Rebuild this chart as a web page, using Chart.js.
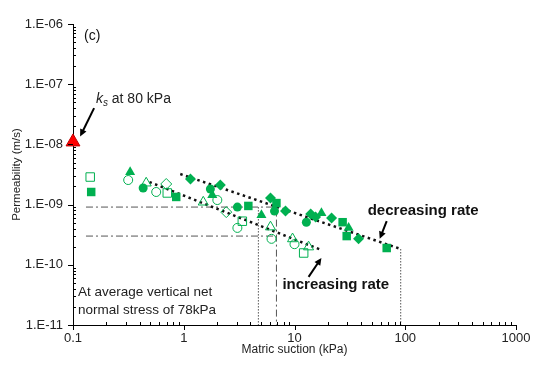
<!DOCTYPE html>
<html>
<head>
<meta charset="utf-8">
<script src="https://cdn.jsdelivr.net/npm/chart.js@4.4.1/dist/chart.umd.min.js"></script>
<style>
  html, body { margin: 0; padding: 0; background: #fff; }
  #wrap { width: 550px; height: 365px; }
</style>
</head>
<body>
<div id="wrap"><canvas id="chart" width="550" height="365"></canvas></div>
<script>
// Axis ticks
const xTicks = [0.1, 1, 10, 100, 1000];
const yTicks = [1e-11, 1e-10, 1e-9, 1e-8, 1e-7, 1e-6];

// Measured points: [matric suction (kPa), permeability (m/s)]
const filledSquares = [[0.146, 1.62e-9], [0.855, 1.34e-9], [3.83, 9.5e-10], [6.87, 1.06e-9], [27.2, 5.1e-10], [29.6, 3.0e-10], [68, 1.9e-10]];
const filledCircles = [[0.43, 1.89e-9], [1.74, 1.82e-9], [3.05, 9.1e-10], [6.6, 7.8e-10], [12.8, 5.1e-10]];
const filledTriangles = [[0.328, 3.48e-9], [1.81, 1.44e-9], [5.03, 6.7e-10], [17.5, 7.25e-10], [30.8, 4.1e-10]];
const filledDiamonds = [[1.15, 2.66e-9], [2.14, 2.12e-9], [6.07, 1.29e-9], [8.29, 7.8e-10], [14.0, 7.0e-10], [15.5, 6.2e-10], [21.6, 6.0e-10], [37.9, 2.7e-10]];
const openSquares = [[0.143, 2.87e-9], [0.71, 1.56e-9], [3.38, 5.3e-10], [12.1, 1.57e-10]];
const openCircles = [[0.315, 2.56e-9], [0.564, 1.62e-9], [2.01, 1.19e-9], [3.05, 4.1e-10], [6.2, 2.7e-10], [10.0, 2.2e-10]];
const openTriangles = [[0.458, 2.28e-9], [1.5, 1.1e-9], [6.07, 4.25e-10], [9.6, 2.7e-10], [13.4, 1.98e-10]];
const openDiamonds = [[0.695, 2.2e-9], [2.42, 7.5e-10]];
const ksPoint = [[0.1, 1.1e-8]];

// Guide lines
const decreasingTrend = [[0.93, 3.22e-9], [91, 1.83e-10]];
const increasingTrend = [[0.49, 2.37e-9], [17.5, 1.76e-10]];
const upperLevel = [[0.131, 9.1e-10], [6.87, 9.1e-10]];
const lowerLevel = [[0.131, 3.0e-10], [6.87, 3.0e-10]];
const dropA = [[4.72, 9.1e-10], [4.72, 1e-11]];
const dropB = [[6.87, 1.0e-9], [6.87, 1e-11]];
const dropC = [[91, 1.83e-10], [91, 1e-11]];

const green = '#00B050';
const fontFamily = '"Liberation Sans", Arial, sans-serif';
Chart.defaults.font.family = fontFamily;

function pts(arr) {
  return arr.map(p => ({ x: p[0], y: p[1] }));
}

function markerSet(arr, style, radius, filled) {
  return {
    data: pts(arr),
    pointStyle: style,
    pointRadius: radius,
    backgroundColor: filled ? green : 'rgba(255,255,255,0)',
    borderColor: green,
    borderWidth: filled ? 0 : 1,
    showLine: false
  };
}

function guide(arr, color, width, dash) {
  return {
    data: pts(arr),
    showLine: true,
    pointRadius: 0,
    borderColor: color,
    borderWidth: width,
    borderDash: dash,
    fill: false
  };
}

function drawArrow(ctx, x1, y1, x2, y2) {
  const ang = Math.atan2(y2 - y1, x2 - x1);
  const head = 8;
  ctx.save();
  ctx.strokeStyle = '#000';
  ctx.fillStyle = '#000';
  ctx.lineWidth = 2;
  ctx.beginPath();
  ctx.moveTo(x1, y1);
  ctx.lineTo(x2 - Math.cos(ang) * head * 0.8, y2 - Math.sin(ang) * head * 0.8);
  ctx.stroke();
  ctx.beginPath();
  ctx.moveTo(x2, y2);
  ctx.lineTo(x2 - head * Math.cos(ang - 0.45), y2 - head * Math.sin(ang - 0.45));
  ctx.lineTo(x2 - head * Math.cos(ang + 0.45), y2 - head * Math.sin(ang + 0.45));
  ctx.closePath();
  ctx.fill();
  ctx.restore();
}

// Minor/major tick marks and text notes
const extrasPlugin = {
  id: 'extras',
  afterDraw(chart) {
    const ctx = chart.ctx;
    const xs = chart.scales.x;
    const ys = chart.scales.y;
    const area = chart.chartArea;

    ctx.save();
    ctx.strokeStyle = '#000';
    ctx.lineWidth = 1;
    ctx.beginPath();
    // x axis ticks
    xTicks.forEach((v, i) => {
      const px = Math.round(xs.getPixelForValue(v)) + 0.5;
      ctx.moveTo(px, area.bottom);
      ctx.lineTo(px, area.bottom + 5);
      if (i < xTicks.length - 1) {
        for (let k = 2; k <= 9; k++) {
          const mx = Math.round(xs.getPixelForValue(v * k)) + 0.5;
          ctx.moveTo(mx, area.bottom);
          ctx.lineTo(mx, area.bottom - 3);
        }
      }
    });
    // y axis ticks
    yTicks.forEach((v, i) => {
      const py = Math.round(ys.getPixelForValue(v)) + 0.5;
      ctx.moveTo(area.left - 5, py);
      ctx.lineTo(area.left, py);
      if (i < yTicks.length - 1) {
        for (let k = 2; k <= 9; k++) {
          const my = Math.round(ys.getPixelForValue(v * k)) + 0.5;
          ctx.moveTo(area.left, my);
          ctx.lineTo(area.left + 3, my);
        }
      }
    });
    ctx.stroke();

    // text notes
    ctx.fillStyle = '#111';
    ctx.textBaseline = 'middle';
    ctx.textAlign = 'left';
    ctx.font = '14px ' + fontFamily;
    ctx.fillText('(c)', xs.getPixelForValue(0.126), ys.getPixelForValue(6.3e-7));

    ctx.font = '13.5px ' + fontFamily;
    ctx.fillStyle = '#222';
    ctx.fillText('At average vertical net', xs.getPixelForValue(0.111), ys.getPixelForValue(3.5e-11));
    ctx.fillText('normal stress of 78kPa', xs.getPixelForValue(0.111), ys.getPixelForValue(1.77e-11));

    // k_s label
    let tx = xs.getPixelForValue(0.161);
    const ty = ys.getPixelForValue(5.7e-8);
    ctx.fillStyle = '#222';
    ctx.font = 'italic 14px ' + fontFamily;
    ctx.fillText('k', tx, ty);
    tx += ctx.measureText('k').width;
    ctx.font = 'italic 10px ' + fontFamily;
    ctx.fillText('s', tx, ty + 4);
    tx += ctx.measureText('s').width;
    ctx.font = '14px ' + fontFamily;
    ctx.fillText(' at 80 kPa', tx, ty);

    ctx.font = 'bold 15px ' + fontFamily;
    ctx.fillStyle = '#111';
    ctx.fillText('decreasing rate', xs.getPixelForValue(45.8), ys.getPixelForValue(7.8e-10));
    ctx.fillText('increasing rate', xs.getPixelForValue(7.78), ys.getPixelForValue(4.6e-11));
    ctx.restore();

    drawArrow(ctx, xs.getPixelForValue(0.155), ys.getPixelForValue(4.0e-8), xs.getPixelForValue(0.116), ys.getPixelForValue(1.35e-8));
    drawArrow(ctx, xs.getPixelForValue(68), ys.getPixelForValue(5.3e-10), xs.getPixelForValue(58.8), ys.getPixelForValue(2.7e-10));
    drawArrow(ctx, xs.getPixelForValue(13.4), ys.getPixelForValue(6.3e-11), xs.getPixelForValue(17.5), ys.getPixelForValue(1.3e-10));
  }
};

const ksSet = markerSet(ksPoint, 'triangle', 8, true);
ksSet.backgroundColor = '#FF0000';
ksSet.borderColor = '#C00000';
ksSet.borderWidth = 1;
ksSet.clip = false;

const ctx = document.getElementById('chart').getContext('2d');
new Chart(ctx, {
  type: 'scatter',
  data: {
    datasets: [
      ksSet,
      markerSet(filledSquares, 'rect', 6, true),
      markerSet(filledCircles, 'circle', 4.5, true),
      markerSet(filledTriangles, 'triangle', 5.8, true),
      markerSet(filledDiamonds, 'rectRot', 5.5, true),
      markerSet(openSquares, 'rect', 6, false),
      markerSet(openCircles, 'circle', 4.5, false),
      markerSet(openTriangles, 'triangle', 5.8, false),
      markerSet(openDiamonds, 'rectRot', 5.5, false),
      guide(decreasingTrend, '#111', 2.5, [2.5, 3.5]),
      guide(increasingTrend, '#111', 2.5, [2.5, 3.5]),
      guide(upperLevel, '#555', 1, [7, 3, 2, 3]),
      guide(lowerLevel, '#555', 1, [7, 3, 2, 3]),
      guide(dropA, '#555', 1, [1.5, 1.5]),
      guide(dropB, '#555', 1, [7, 3, 2, 3]),
      guide(dropC, '#555', 1, [1.5, 1.5])
    ]
  },
  options: {
    responsive: false,
    animation: false,
    layout: { padding: { top: 24, right: 34, left: 0, bottom: 0 } },
    plugins: {
      legend: { display: false },
      tooltip: { enabled: false }
    },
    scales: {
      x: {
        type: 'logarithmic',
        position: 'bottom',
        min: 0.1,
        max: 1000,
        afterBuildTicks: s => { s.ticks = xTicks.map(v => ({ value: v })); },
        afterFit: s => { s.height = 40; },
        grid: { display: false, drawTicks: false },
        border: { display: true, color: '#000', width: 1 },
        ticks: {
          autoSkip: false,
          maxRotation: 0,
          padding: 6,
          color: '#222',
          font: { size: 13 },
          callback: v => String(v)
        },
        title: {
          display: true,
          text: 'Matric suction (kPa)',
          color: '#222',
          font: { size: 12 },
          padding: { top: 0, bottom: 8 }
        }
      },
      y: {
        type: 'logarithmic',
        position: 'left',
        min: 1e-11,
        max: 1e-6,
        afterBuildTicks: s => { s.ticks = yTicks.map(v => ({ value: v })); },
        afterFit: s => { s.width = 73; },
        grid: { display: false, drawTicks: false },
        border: { display: true, color: '#000', width: 1 },
        ticks: {
          autoSkip: false,
          padding: 10,
          color: '#222',
          font: { size: 13 },
          callback: v => {
            const e = Math.round(Math.log10(v));
            return '1.E' + (e < 0 ? '-' : '+') + String(Math.abs(e)).padStart(2, '0');
          }
        },
        title: {
          display: true,
          text: 'Permeability (m/s)',
          color: '#222',
          font: { size: 11.5 },
          padding: { top: 10, bottom: 0 }
        }
      }
    }
  },
  plugins: [extrasPlugin]
});
</script>
</body>
</html>
